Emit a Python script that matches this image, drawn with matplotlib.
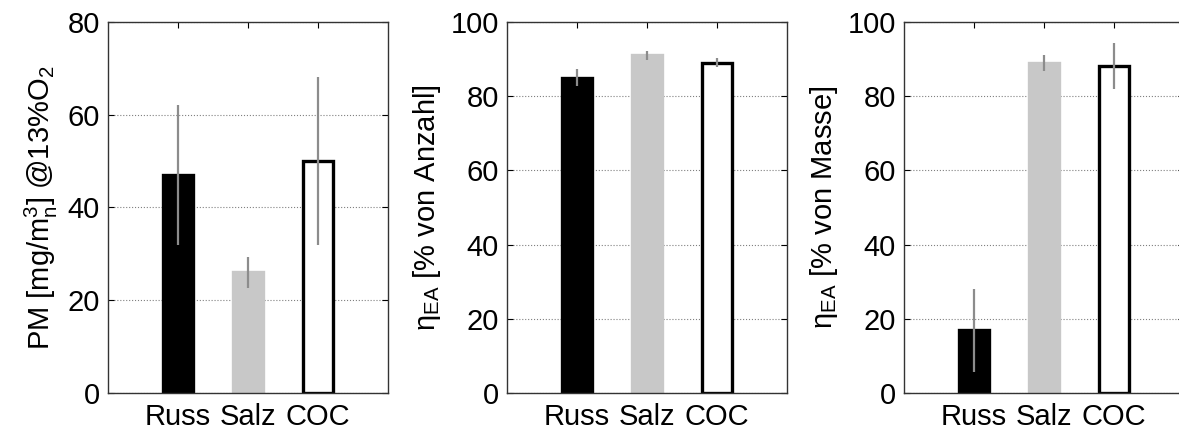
import numpy as np
import matplotlib
matplotlib.use("Agg")
import matplotlib.pyplot as plt

plt.rcParams['font.family'] = ['Liberation Sans', 'DejaVu Sans']
plt.rcParams['mathtext.fontset'] = 'custom'
plt.rcParams['mathtext.rm'] = 'Liberation Sans'
plt.rcParams['mathtext.it'] = 'Liberation Sans:italic'

# --- Daten ---
kategorien = ['Russ', 'Salz', 'COC']

pm_mittel = [47, 26, 50]
pm_unten = [32, 22.7, 32]
pm_oben = [62, 29.4, 68.2]

anzahl_mittel = [85, 91, 89]
anzahl_unten = [82.7, 89.7, 87.9]
anzahl_oben = [87.2, 92.2, 90.3]

masse_mittel = [17, 89, 88]
masse_unten = [5.7, 86.8, 81.8]
masse_oben = [28, 91.2, 94.4]

farben = ['black', '#c8c8c8', 'white']
kanten = ['black', '#c8c8c8', 'black']


def balken(ax, mittel, unten, oben, ymax, ylabel):
    x = np.arange(1, len(kategorien) + 1)
    for xi, m, fc, ec in zip(x, mittel, farben, kanten):
        ax.bar(xi, m, width=0.42, color=fc, edgecolor=ec, linewidth=2.4, zorder=2)
    yerr = [np.array(mittel) - np.array(unten), np.array(oben) - np.array(mittel)]
    ax.errorbar(x, mittel, yerr=yerr, fmt='none', ecolor='#8c8c8c',
                elinewidth=1.6, capsize=0, zorder=3)
    ax.set_xlim(0, 4)
    ax.set_ylim(0, ymax)
    ax.set_yticks(np.arange(0, ymax + 1, 20))
    ax.set_xticks(x)
    ax.set_xticklabels(kategorien)
    ax.yaxis.grid(True, linestyle=':', color='#808080', linewidth=0.8, zorder=0)
    ax.set_axisbelow(True)
    ax.tick_params(direction='in', top=True, right=True, labelsize=21,
                   length=4, width=0.8)
    ax.tick_params(axis='x', pad=7)
    ax.tick_params(axis='y', pad=6)
    for s in ax.spines.values():
        s.set_color('#333333')
        s.set_linewidth(1.0)
    ax.set_ylabel(ylabel, fontsize=21, labelpad=5)


fig = plt.figure(figsize=(11.79, 4.33), dpi=100)
ax1 = fig.add_axes([0.0916, 0.0924, 0.2375, 0.857])
ax2 = fig.add_axes([0.4300, 0.0924, 0.2375, 0.857])
ax3 = fig.add_axes([0.7668, 0.0924, 0.2375, 0.857])

balken(ax1, pm_mittel, pm_unten, pm_oben, 80,
       r'PM [mg/m$_\mathregular{n}^\mathregular{3}$] @13%O$_\mathregular{2}$')
balken(ax2, anzahl_mittel, anzahl_unten, anzahl_oben, 100,
       r'η$_\mathregular{EA}$ [% von Anzahl]')
balken(ax3, masse_mittel, masse_unten, masse_oben, 100,
       r'η$_\mathregular{EA}$ [% von Masse]')

fig.savefig('out.png', dpi=100)
